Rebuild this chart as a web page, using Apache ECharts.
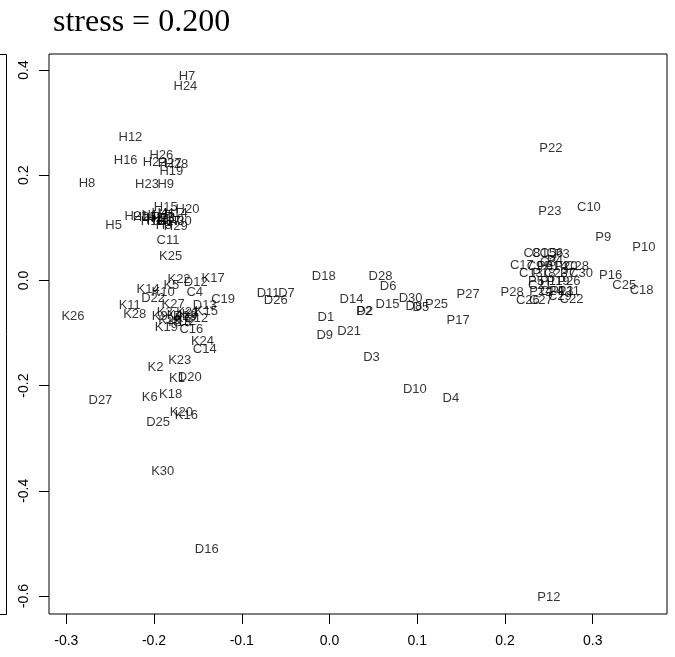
<!DOCTYPE html>
<html>
<head>
<meta charset="utf-8">
<script src="https://cdn.jsdelivr.net/npm/echarts@6/dist/echarts.min.js"></script>
<style>html,body{margin:0;padding:0;background:#fff}#c{width:675px;height:657px}</style>
</head>
<body>
<div id="c"></div>
<script>
var titleText = "stress = 0.200";
var xTicks = [-0.3, -0.2, -0.1, 0.0, 0.1, 0.2, 0.3];
var yTicks = [-0.6, -0.4, -0.2, 0.0, 0.2, 0.4];

var labels = [
 "H7","H24","H12","H16","H26","H22","H27","H28","H19","H8","H23","H9","H15","H20","H21","H5",
 "H1","H2","H3","H4","H6","H10","H11","H13","H14","H17","H18","H29","H30","H25",
 "C11","K25","K22","K17","D12","K5","K14","K10","C4","D22","C19","K11","K27","D13","K28","K26",
 "K3","K4","K7","K8","C12","K13","K15","K29","K21","K9","K12","D23",
 "K19","C16","K24","C14","K23","K2","K1","D20","K6","K18","D27","K20","K16","D25","K30","D16",
 "D18","D28","D6","D11","D7","D26","D14","D15","D30","D8","D5","P25","P27","D1","P2","D2","P17","D21","D9","D3","D10","D4",
 "P22","P23","C10","P9","P10","P16","C25","C18","P28","C26","C27","C22","P12",
 "C8","C1","C5","C6","P3","C17","C9","P6","P14","P20","C28","C13","P18","C23","P7","C30",
 "P5","P1","P19","P26","P24","C24","P13","P11","C3","C21","P4","C29"
];
var xs = [
 -0.1624,-0.1642,-0.2269,-0.2323,-0.1916,-0.1992,-0.1821,-0.1745,-0.1802,-0.2764,-0.2080,-0.1867,-0.1867,-0.1619,-0.2201,-0.2460,
 -0.2049,-0.1992,-0.1886,-0.1935,-0.1855,-0.1798,-0.1958,-0.1901,-0.1753,-0.1832,-0.2015,-0.1753,-0.1707,-0.2106,
 -0.1840,-0.1810,-0.1715,-0.1327,-0.1525,-0.1802,-0.2068,-0.1897,-0.1536,-0.2011,-0.1213,-0.2277,-0.1783,-0.1422,-0.2220,-0.2924,
 -0.1878,-0.1764,-0.1673,-0.1593,-0.1517,-0.1707,-0.1403,-0.1821,-0.1616,-0.1935,-0.1650,-0.1648,
 -0.1859,-0.1574,-0.1448,-0.1422,-0.1707,-0.1984,-0.1738,-0.1593,-0.2049,-0.1810,-0.2611,-0.1688,-0.1631,-0.1954,-0.1901,-0.1399,
 -0.0065,0.0582,0.0668,-0.0700,-0.0490,-0.0612,0.0251,0.0661,0.0924,0.0961,0.1041,0.1220,0.1580,-0.0042,0.0395,0.0403,0.1466,0.0223,-0.0054,0.0479,0.0973,0.1383,
 0.2523,0.2512,0.2957,0.3120,0.3584,0.3204,0.3359,0.3558,0.2082,0.2261,0.2409,0.2759,0.2501,
 0.2307,0.2398,0.2489,0.2569,0.2649,0.2192,0.2342,0.2456,0.2581,0.2695,0.2821,0.2296,0.2444,0.2581,0.2718,0.2866,
 0.2354,0.2491,0.2605,0.2730,0.2410,0.2535,0.2649,0.2729,0.2490,0.2398,0.2570,0.2626
];
var ys = [
 0.3886,0.3696,0.2721,0.2276,0.2384,0.2245,0.2232,0.2207,0.2067,0.1846,0.1833,0.1833,0.1382,0.1357,0.1211,0.1053,
 0.1243,0.1186,0.1040,0.1281,0.1262,0.1167,0.1148,0.1186,0.1281,0.1129,0.1129,0.1034,0.1129,0.1205,
 0.0768,0.0464,0.0027,0.0040,-0.0036,-0.0087,-0.0163,-0.0226,-0.0234,-0.0340,-0.0354,-0.0468,-0.0449,-0.0468,-0.0644,-0.0690,
 -0.0601,-0.0658,-0.0715,-0.0639,-0.0721,-0.0791,-0.0595,-0.0753,-0.0601,-0.0677,-0.0772,-0.0677,
 -0.0892,-0.0924,-0.1165,-0.1304,-0.1513,-0.1652,-0.1861,-0.1842,-0.2222,-0.2160,-0.2279,-0.2508,-0.2572,-0.2705,-0.3624,-0.5106,
 0.0084,0.0084,-0.0106,-0.0245,-0.0245,-0.0373,-0.0359,-0.0449,-0.0340,-0.0487,-0.0506,-0.0449,-0.0259,-0.0702,-0.0582,-0.0595,-0.0753,-0.0962,-0.1038,-0.1462,-0.2070,-0.2241,
 0.2511,0.1306,0.1390,0.0819,0.0629,0.0103,-0.0087,-0.0183,-0.0226,-0.0373,-0.0373,-0.0354,-0.6019,
 0.0522,0.0522,0.0522,0.0522,0.0502,0.0293,0.0274,0.0274,0.0274,0.0274,0.0274,0.0141,0.0141,0.0141,0.0141,0.0141,
 -0.0025,-0.0025,-0.0025,-0.0025,-0.0202,-0.0202,-0.0202,-0.0202,0.0350,-0.0087,0.0388,-0.0297
];

var pts = labels.map(function (n, i) { return [xs[i], ys[i], n]; });

var chart = echarts.init(document.getElementById('c'), null, {renderer: 'canvas'});
var sans = '"Liberation Sans", Arial, Helvetica, sans-serif';
chart.setOption({
  animation: false,
  backgroundColor: '#fff',
  grid: {left: 49, right: 8, top: 54, bottom: 43, show: true, borderColor: '#000', borderWidth: 1, containLabel: false},
  xAxis: {
    type: 'value', min: -0.3197, max: 0.3847,
    axisLine: {show: false, onZero: false},
    splitLine: {show: false},
    axisTick: {show: true, inside: false, length: 10, customValues: xTicks, lineStyle: {color: '#000', width: 1}},
    axisLabel: {customValues: xTicks, margin: 20, fontSize: 14, color: '#000', fontFamily: sans,
      formatter: function (v) { return v.toFixed(1); }}
  },
  yAxis: {
    type: 'value', min: -0.6342, max: 0.4304,
    axisLine: {show: false, onZero: false},
    splitLine: {show: false},
    axisTick: {show: true, inside: false, length: 10, customValues: yTicks, lineStyle: {color: '#000', width: 1}},
    axisLabel: {customValues: yTicks, rotate: 90, margin: 18, fontSize: 14, color: '#000', fontFamily: sans,
      formatter: function (v) { return v.toFixed(1); }}
  },
  series: [{
    type: 'scatter',
    data: pts,
    symbol: 'circle',
    symbolSize: 1,
    silent: true,
    itemStyle: {color: 'rgba(0,0,0,0)'},
    label: {show: true, position: 'inside', formatter: function (p) { return p.value[2]; },
      fontSize: 13, color: '#000', fontFamily: sans},
    emphasis: {disabled: true}
  }],
  graphic: [
    {type: 'text', left: 53, top: 7, style: {text: titleText, font: '32px "Liberation Serif", "Times New Roman", serif', fill: '#000'}},
    {type: 'polyline', shape: {points: [[0, 54.5], [6.5, 54.5], [6.5, 614.5], [0, 614.5]]}, style: {stroke: '#000', lineWidth: 1, fill: null}}
  ]
});
</script>
</body>
</html>
